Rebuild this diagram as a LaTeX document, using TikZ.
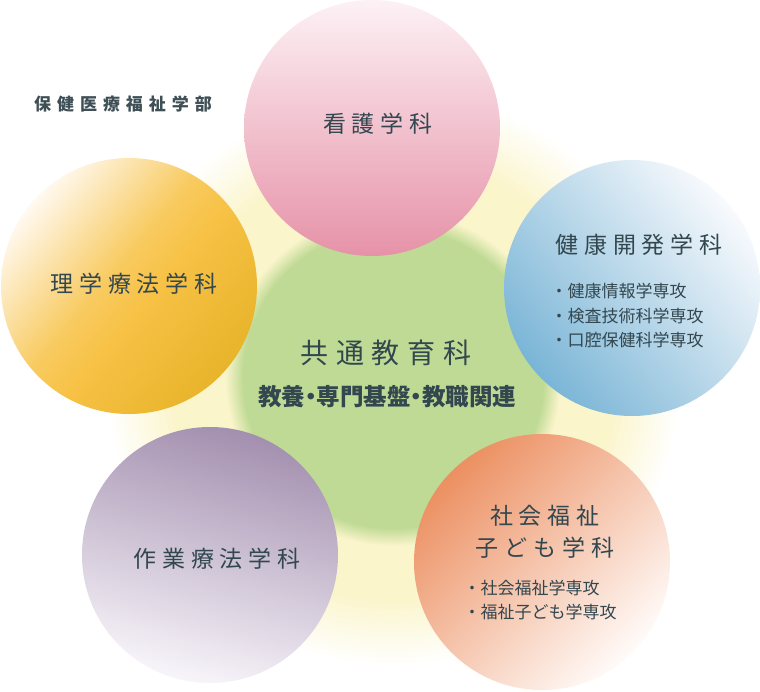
\documentclass[tikz,border=0pt]{standalone}
\usepackage{fontspec}
\setmainfont{Noto Sans CJK JP}
\usetikzlibrary{positioning}

\definecolor{txtc}{HTML}{33474F}
\definecolor{headc}{HTML}{3E4F55}
\definecolor{greenc}{HTML}{BFDA94}
\definecolor{paleyel}{HTML}{FBF5CC}
\definecolor{pinktop}{HTML}{FDF1F5}
\definecolor{pinkmid}{HTML}{F4C2CF}
\definecolor{pinkbot}{HTML}{E692A8}
\definecolor{yeltop}{HTML}{FFF9F0}
\definecolor{yelmid}{HTML}{F7C246}
\definecolor{yelbot}{HTML}{E8B42A}
\definecolor{bluetop}{HTML}{F8FAFD}
\definecolor{bluemid}{HTML}{BCD6E7}
\definecolor{bluebot}{HTML}{7AB5D6}
\definecolor{purtop}{HTML}{A38FAF}
\definecolor{purmid}{HTML}{BCA9C9}
\definecolor{purbot}{HTML}{F8F5FA}
\definecolor{ortop}{HTML}{EC9062}
\definecolor{ormid}{HTML}{F2AC89}
\definecolor{orbot}{HTML}{FFFBF9}

% 25bp = radius of the path (300pt)
\pgfdeclareradialshading{coreglow}{\pgfpoint{0bp}{0bp}}{%
  color(0bp)=(greenc); color(12.5bp)=(greenc); color(14bp)=(paleyel);
  color(18.5bp)=(paleyel); color(24bp)=(white); color(50bp)=(white)}
% 25bp..75bp = bottom..top of the path
\pgfdeclareverticalshading{yelshade}{100bp}{%
  color(0bp)=(yelbot); color(25bp)=(yelbot); color(46bp)=(yelmid);
  color(54bp)=(yelmid!85!yeltop); color(75bp)=(yeltop); color(100bp)=(yeltop)}

\begin{document}
\begin{tikzpicture}[x=1pt, y=1pt,
  dept/.style={circle, minimum size=256pt, inner sep=0pt},
  deptname/.style={font=\fontsize{23}{32}\selectfont\addfontfeature{LetterSpace=26},
              text=txtc, align=center},
  course/.style={font=\fontsize{17}{24.5}\selectfont, text=txtc, align=left},
  corename/.style={font=\fontsize{28}{32}\selectfont\addfontfeature{LetterSpace=28},
              text=txtc},
  coresub/.style={font=\fontsize{23.5}{28}\selectfont\bfseries, text=txtc},
  faculty/.style={font=\fontsize{17}{20}\selectfont\bfseries\addfontfeature{LetterSpace=35},
              text=headc}
]
  \useasboundingbox[fill=white] (0,0) rectangle (760,-691);

  % common core
  \node[circle, minimum size=600pt, inner sep=0pt, shading=coreglow] (core) at (393,-378) {};

  % departments
  \node[dept, top color=pinktop, middle color=pinkmid, bottom color=pinkbot]
    (kango) at (372,-128) {};
  \node[dept, shading=yelshade, shading angle=50]
    (rigaku) at (129,-286) {};
  \node[dept, top color=bluetop, middle color=bluemid, bottom color=bluebot, shading angle=-50]
    (kenko) at (632,-288) {};
  \node[dept, top color=purtop, middle color=purmid, bottom color=purbot, shading angle=-15]
    (sagyo) at (210,-555) {};
  \node[dept, top color=ortop, middle color=ormid, bottom color=orbot, shading angle=45]
    (shakai) at (542,-562) {};

  % labels
  \node[faculty] (fac) at (123,-104) {保健医療福祉学部};
  \node[deptname] (kangoT)  at (378,-124) {看護学科};
  \node[deptname] (rigakuT) at (134,-284) {理学療法学科};
  \node[deptname] (kenkoT)  at (639,-245) {健康開発学科};
  \node[deptname] (sagyoT)  at (217,-559) {作業療法学科};
  \node[deptname] (shakaiT) at (545,-532) {社会福祉\\子ども学科};

  \node[course, anchor=west] (kenkoC) at (547,-316)
    {・健康情報学専攻\\・検査技術科学専攻\\・口腔保健科学専攻};
  \node[course, anchor=west] (shakaiC) at (460,-600)
    {・社会福祉学専攻\\・福祉子ども学専攻};

  \node[corename] (coreT) at (386,-353) {共通教育科};
  \node[coresub]  (coreS) at (387,-397)
    {教養\kern-6pt・\kern-6pt専門基盤\kern-6pt・\kern-6pt教職関連};

\end{tikzpicture}
\end{document}
